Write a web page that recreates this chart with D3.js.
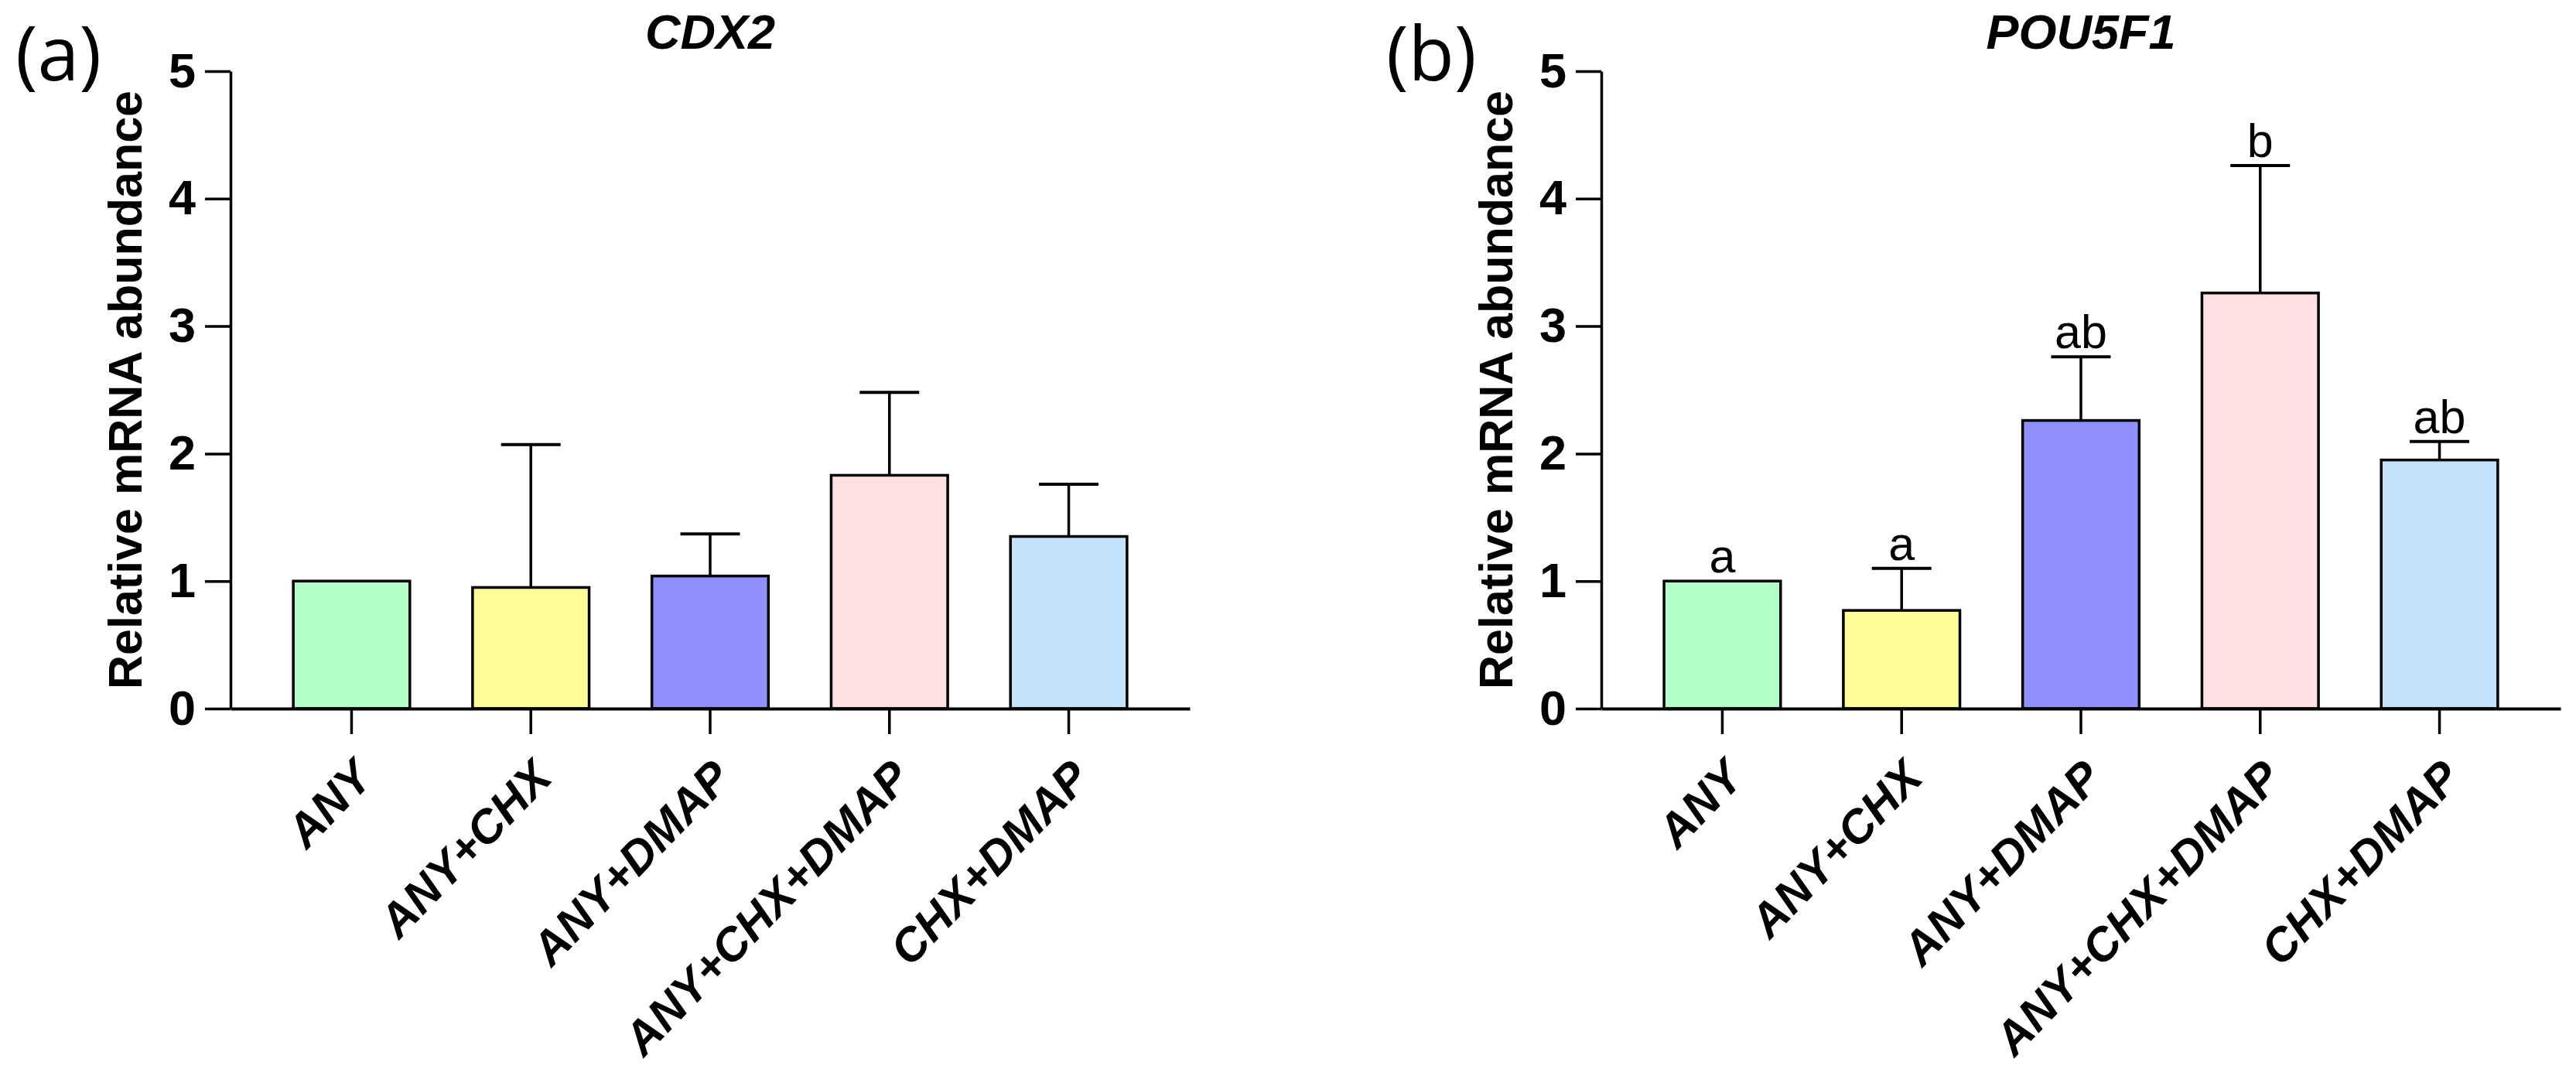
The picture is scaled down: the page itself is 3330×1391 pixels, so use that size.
<!DOCTYPE html>
<html>
    <head>
        <script src="https://d3js.org/d3.v7.min.js"></script>
        <style>
            body { margin: 0; background-color: #ffffff; }
            svg text { font-family: "Liberation Sans", Arial, sans-serif; }
        </style>
    </head>
    <body>
        <div id="chart"></div>
        <script>
            // groups, bar colours and the values
            const groups = ["ANY", "ANY+CHX", "ANY+DMAP", "ANY+CHX+DMAP", "CHX+DMAP"];
            const colors = ["#b2ffc7", "#fefd97", "#8f8ffe", "#fee0e3", "#c3e2f9"];
            const yTicks = [0, 1, 2, 3, 4, 5];

            const cdx2Mean = [1.00, 0.95, 1.04, 1.83, 1.35];
            const cdx2Err  = [0.00, 1.12, 0.33, 0.65, 0.41];
            const cdx2Sig  = ["", "", "", "", ""];

            const pouMean = [1.00, 0.77, 2.26, 3.26, 1.95];
            const pouErr  = [0.00, 0.33, 0.50, 1.00, 0.145];
            const pouSig  = ["a", "a", "ab", "b", "ab"];

            const W = 3330, H = 1391;
            const svg = d3.select("#chart").append("svg")
                .attr("width", W).attr("height", H);

            const panelW = 1240, yTop = 92, yBottom = 916;

            function drawPanel(x0, tag, title, mean, err, sig) {
                const g = svg.append("g");
                const x = d3.scaleBand().domain(groups).range([x0, x0 + panelW]).padding(0.35);
                const y = d3.scaleLinear().domain([0, 5]).range([yBottom, yTop]);

                // bars
                g.selectAll("rect.bar").data(groups).join("rect")
                    .attr("class", "bar")
                    .attr("x", d => x(d))
                    .attr("y", (d, i) => y(mean[i]))
                    .attr("width", x.bandwidth())
                    .attr("height", (d, i) => y(0) - y(mean[i]))
                    .attr("fill", (d, i) => colors[i])
                    .attr("stroke", "#000").attr("stroke-width", 3.5);

                // error bars (upper only)
                const capW = 77;
                groups.forEach((d, i) => {
                    if (err[i] <= 0) return;
                    const cx = x(d) + x.bandwidth() / 2;
                    g.append("line")
                        .attr("x1", cx).attr("x2", cx)
                        .attr("y1", y(mean[i])).attr("y2", y(mean[i] + err[i]))
                        .attr("stroke", "#000").attr("stroke-width", 3.5);
                    g.append("line")
                        .attr("x1", cx - capW / 2).attr("x2", cx + capW / 2)
                        .attr("y1", y(mean[i] + err[i])).attr("y2", y(mean[i] + err[i]))
                        .attr("stroke", "#000").attr("stroke-width", 4);
                });

                // significance letters
                g.selectAll("text.sig").data(groups).join("text")
                    .attr("class", "sig")
                    .attr("x", d => x(d) + x.bandwidth() / 2)
                    .attr("y", (d, i) => y(mean[i] + err[i]) - 11)
                    .attr("text-anchor", "middle")
                    .style("font-size", "61px")
                    .text((d, i) => sig[i]);

                // y axis
                const yAxis = g.append("g")
                    .attr("transform", `translate(${x0},0)`)
                    .call(d3.axisLeft(y).tickValues(yTicks).tickFormat(d3.format("d"))
                        .tickSize(33).tickSizeOuter(0).tickPadding(12));
                yAxis.select(".domain").attr("stroke-width", 3.5);
                yAxis.selectAll(".tick line").attr("stroke-width", 3.5);
                yAxis.selectAll(".tick text")
                    .style("font-size", "63px").style("font-weight", "bold").attr("fill", "#000");

                // x axis
                const xAxis = g.append("g")
                    .attr("transform", `translate(0,${yBottom})`)
                    .call(d3.axisBottom(x).tickSize(33).tickSizeOuter(0));
                xAxis.select(".domain").attr("stroke-width", 4);
                xAxis.selectAll(".tick line").attr("stroke-width", 3.5);
                xAxis.selectAll(".tick text")
                    .attr("x", 0).attr("y", 0).attr("dy", 0)
                    .attr("text-anchor", "end")
                    .attr("transform", "translate(30,92) rotate(-46)")
                    .style("font-size", "60px").style("font-weight", "bold")
                    .style("font-style", "italic").attr("fill", "#000");

                // y label
                g.append("text")
                    .attr("transform", `translate(${x0 - 115},${(yTop + yBottom) / 2}) rotate(-90)`)
                    .attr("text-anchor", "middle")
                    .style("font-size", "61px").style("font-weight", "bold")
                    .text("Relative mRNA abundance");

                // title
                g.append("text")
                    .attr("x", x0 + panelW / 2).attr("y", 63)
                    .attr("text-anchor", "middle")
                    .style("font-size", "63px").style("font-weight", "bold").style("font-style", "italic")
                    .text(title);

                // panel tag
                g.append("text")
                    .attr("x", x0 - 278).attr("y", 104)
                    .style("font-family", "'Open Sans', 'Noto Sans', sans-serif")
                    .style("font-size", "97px")
                    .text(tag);
            }

            drawPanel(298, "(a)", "CDX2", cdx2Mean, cdx2Err, cdx2Sig);
            drawPanel(2070, "(b)", "POU5F1", pouMean, pouErr, pouSig);
        </script>
    </body>
</html>
